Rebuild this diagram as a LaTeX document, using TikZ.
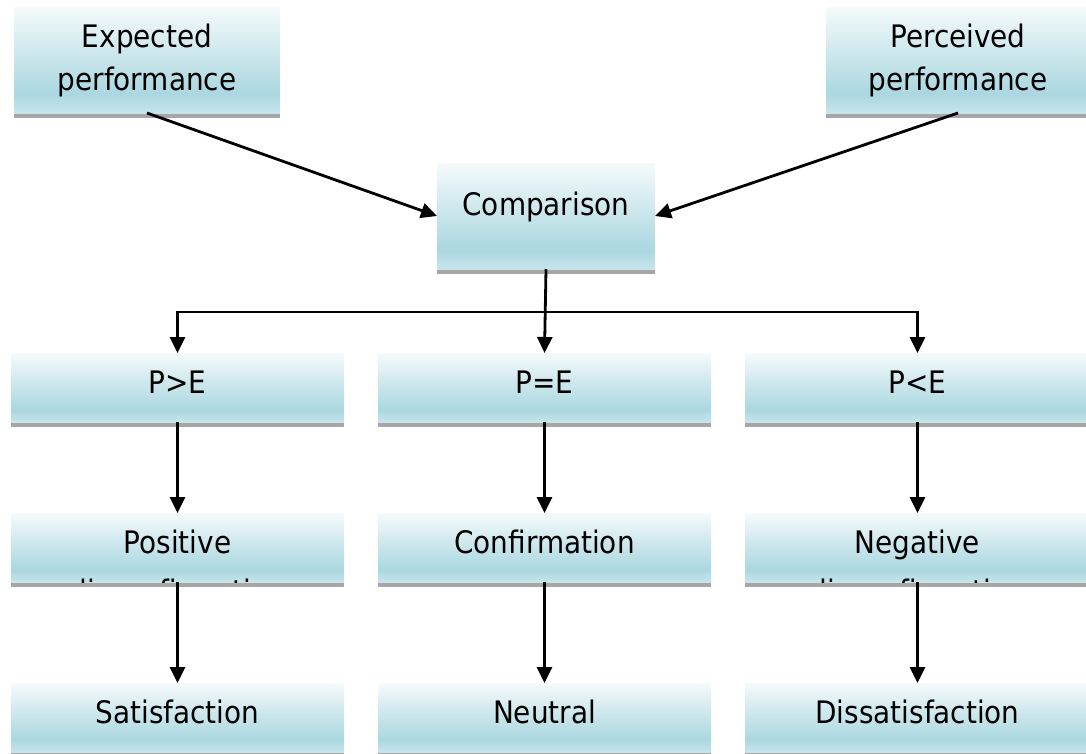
\documentclass[tikz,border=0pt]{standalone}
\usepackage{fontspec}
\newfontfamily\boxfont{DejaVu Sans Condensed}
\usetikzlibrary{arrows.meta}
\definecolor{gtop}{RGB}{245,250,251}
\definecolor{gmid}{RGB}{208,233,238}
\definecolor{gdeep}{RGB}{171,215,224}
\definecolor{gbot}{RGB}{198,229,235}
\definecolor{shadowgray}{RGB}{166,166,166}
% light blue box fill: pale at the top, deepest just above the lower edge
\pgfdeclareverticalshading{boxgrad}{100bp}{color(0bp)=(gbot); color(25bp)=(gbot); color(34bp)=(gdeep); color(55bp)=(gmid); color(75bp)=(gtop); color(100bp)=(gtop)}

\begin{document}
\begin{tikzpicture}[x=1pt,y=-1pt,
  card/.style={rectangle, inner sep=0pt, outer sep=0pt, shade, shading=boxgrad,
    preaction={fill=shadowgray, transform canvas={yshift=-5pt}}},
  big/.style={card, minimum height=106pt},
  small/.style={card, minimum height=69pt},
  txt/.style={inner sep=0pt, anchor=base, font=\boxfont\fontsize{31}{43}\selectfont},
  arr/.style={draw=black, line width=2.8pt, -{Triangle[width=15pt,length=16pt]}}]
\useasboundingbox (0,0) rectangle (1086,753);

% top row
\node[big, minimum width=266pt] (exp) at (147,60) {};
\node[big, minimum width=264pt] (per) at (958,60) {};
\node[big, minimum width=218pt] (cmp) at (546,216) {};

% comparison outcomes
\node[small, minimum width=333pt] (pg) at (177.5,387.5) {};
\node[small, minimum width=333pt] (pe) at (544.5,387.5) {};
\node[small, minimum width=345pt] (pl) at (917.5,387.5) {};

% disconfirmation states
\node[small, minimum width=333pt] (pos) at (177.5,547.5) {};
\node[small, minimum width=333pt] (con) at (544.5,547.5) {};
\node[small, minimum width=345pt] (neg) at (917.5,547.5) {};

% resulting feelings
\node[small, minimum width=333pt] (sat) at (177.5,717.5) {};
\node[small, minimum width=333pt] (neu) at (544.5,717.5) {};
\node[small, minimum width=345pt] (dis) at (917.5,717.5) {};

% labels
\node[txt] (texp1) at (147,47) {Expected};
\node[txt] (texp2) at (147,90) {performance};
\node[txt] (tper1) at (958,47) {Perceived};
\node[txt] (tper2) at (958,90) {performance};
\node[txt] (tcmp) at (546,215) {Comparison};
\node[txt] (tpg) at (177.5,393) {P>E};
\node[txt] (tpe) at (544.5,393) {P=E};
\node[txt] (tpl) at (917.5,393) {P<E};
% two-line labels: the second line runs past the box and is cut off
\begin{scope}
  \clip (pos.north west) rectangle (pos.south east);
  \node[txt] (tpos1) at (177.5,553) {Positive};
  \node[txt] (tpos2) at (177.5,602) {disconfirmation};
\end{scope}
\node[txt] (tcon) at (544.5,553) {Confirmation};
\begin{scope}
  \clip (neg.north west) rectangle (neg.south east);
  \node[txt] (tneg1) at (917.5,553) {Negative};
  \node[txt] (tneg2) at (917.5,602) {disconfirmation};
\end{scope}
\node[txt] (tsat) at (177.5,723) {Satisfaction};
\node[txt] (tneu) at (544.5,723) {Neutral};
\node[txt] (tdis) at (917.5,723) {Dissatisfaction};

% connectors
\draw[arr] (exp.south) -- (cmp.west);
\draw[arr] (per.south) -- (cmp.east);
\coordinate (bus) at (545.5,312);
\draw[arr] (cmp.south) -- (pe.north);
\draw[arr] (bus) -| (pg.north);
\draw[arr] (bus) -| (pl.north);
\draw[arr] (pg.south) -- (pos.north);
\draw[arr] (pe.south) -- (con.north);
\draw[arr] (pl.south) -- (neg.north);
\draw[arr] (pos.south) -- (sat.north);
\draw[arr] (con.south) -- (neu.north);
\draw[arr] (neg.south) -- (dis.north);
\end{tikzpicture}
\end{document}
